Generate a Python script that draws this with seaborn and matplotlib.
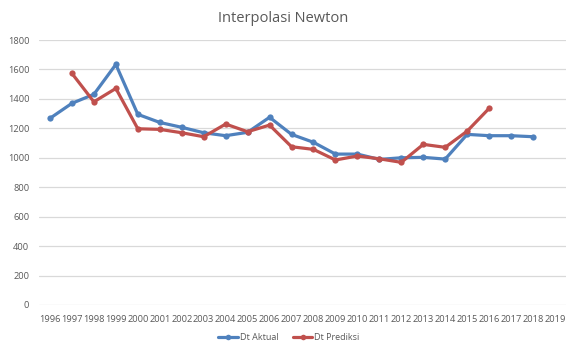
import numpy as np
import pandas as pd
import matplotlib
matplotlib.use("Agg")
import matplotlib.pyplot as plt
import seaborn as sns

years = [str(y) for y in range(1996, 2020)]

dt_aktual = [1268, 1370, 1431, 1634, 1295, 1240, 1207, 1170, 1150, 1173,
             1275, 1159, 1105, 1025, 1025, 989, 1000, 1003, 991, 1159,
             1150, 1150, 1143, None]
dt_prediksi = [None, 1573, 1380, 1471, 1197, 1193, 1170, 1143, 1229, 1177,
               1222, 1075, 1057, 985, 1012, 993, 969, 1091, 1071, 1181,
               1336, None, None, None]

series_names = ["Dt Aktual", "Dt Prediksi"]
colors = ["#4F81BD", "#C0504D"]

rows = []
for name, vals in zip(series_names, [dt_aktual, dt_prediksi]):
    for i, v in enumerate(vals):
        if v is not None:
            rows.append({"pos": i, "value": v, "series": name})
df = pd.DataFrame(rows)

sns.set_theme(style="white")
plt.rcParams["font.family"] = ["Open Sans", "DejaVu Sans"]

fig = plt.figure(figsize=(5.66, 3.43), dpi=100)
ax = fig.add_axes([39 / 566, 38 / 343, 527 / 566, 265 / 343])

sns.lineplot(data=df, x="pos", y="value", hue="series", hue_order=series_names,
             palette=colors, marker="o", markersize=4.5, markeredgewidth=0,
             linewidth=2.3, ax=ax, legend=False, zorder=3)

ax.set_xlim(-0.5, len(years) - 0.5)
ax.set_ylim(0, 1800)
ax.set_yticks(range(0, 1801, 200))
ax.set_xticks(range(len(years)))
ax.set_xticklabels(years)
ax.tick_params(axis="both", length=0, labelsize=6.7, labelcolor="#595959")
ax.tick_params(axis="x", pad=7)
ax.tick_params(axis="y", pad=7)
ax.yaxis.grid(True, color="#D9D9D9", linewidth=0.9)
ax.set_axisbelow(True)
for s in ax.spines.values():
    s.set_visible(False)
ax.set_xlabel("")
ax.set_ylabel("")

fig.text(0.5, 1 - 18 / 343, "Interpolasi Newton", ha="center", va="center",
         fontsize=10.5, color="#595959")

handles = [plt.Line2D([], [], color=c, marker="o", markersize=4,
                      markeredgewidth=0, linewidth=2.3) for c in colors]
fig.legend(handles, series_names, loc="center", bbox_to_anchor=(0.51, 1 - 338 / 343),
           ncol=2, frameon=False, fontsize=6.5, labelcolor="#595959",
           handlelength=2.2, handletextpad=0.2, columnspacing=1.6)

fig.savefig("out.png", dpi=100, facecolor="white")
